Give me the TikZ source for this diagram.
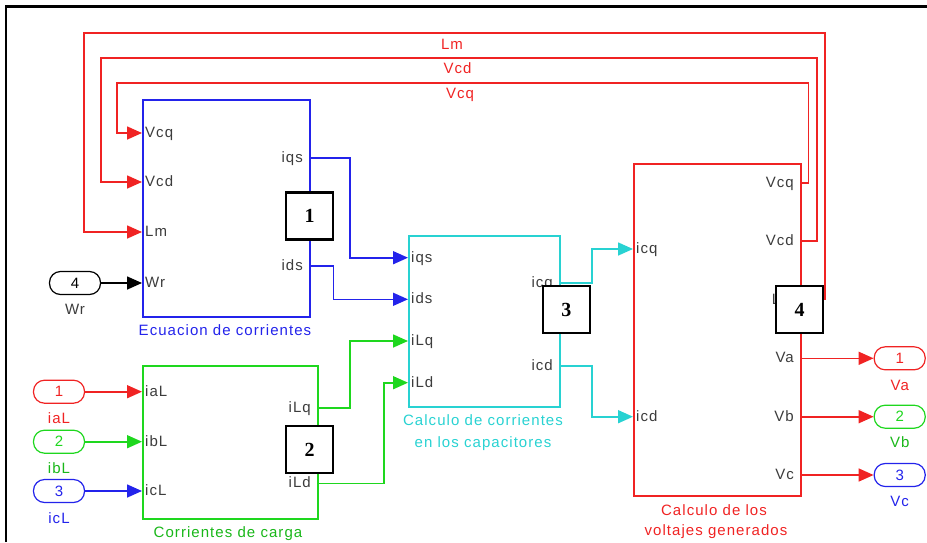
\documentclass[tikz,border=0pt]{standalone}
\usepackage{fontspec}
\setmainfont{Liberation Sans}[LetterSpace=7]
\newfontfamily\numfont{Liberation Serif}
\usetikzlibrary{arrows.meta}
\definecolor{sbred}{RGB}{240,35,35}
\definecolor{sbblue}{RGB}{35,35,235}
\definecolor{sbgreen}{RGB}{30,215,30}
\definecolor{sbcyan}{RGB}{40,210,210}
\definecolor{sbgray}{RGB}{60,60,60}
\begin{document}
\begin{tikzpicture}[x=1pt,y=-1pt,
  txt/.style={font=\fontsize{15}{15}\selectfont, inner sep=0pt},
  blk/.style={draw=#1, line width=1.6pt, anchor=north west, inner sep=0pt},
  plab/.style={txt, text=sbgray},
  plabL/.style={plab, anchor=base west, xshift=3pt, yshift=-4.5pt},
  plabR/.style={plab, anchor=base east, xshift=-6pt, yshift=-4.5pt},
  tip/.style={-{Triangle[length=15pt,width=13pt]}},
  wire/.style={draw=#1, line width=1.6pt, tip},
  fb/.style={draw=sbred, line width=1.6pt, tip},
  port/.style={draw=#1, line width=1.2pt, rounded corners=11pt, minimum width=51pt, minimum height=23pt, inner sep=0pt, text=#1, font=\fontsize{15}{15}\selectfont},
  numbox/.style={draw=black, fill=white, line width=2.2pt, minimum width=47pt, minimum height=47pt, inner sep=0pt, font=\numfont\bfseries\fontsize{20}{20}\selectfont},
]
\useasboundingbox (0,0) rectangle (927,542);

% blocks
\node[blk=sbblue, minimum width=167pt, minimum height=217pt] (B1) at (142,99) {};
\node[blk=sbgreen, minimum width=175pt, minimum height=153pt] (B2) at (142,365) {};
\node[blk=sbcyan, minimum width=151pt, minimum height=171pt] (B3) at (408,235) {};
\node[blk=sbred, minimum width=167pt, minimum height=332pt] (B4) at (633,163.3) {};

% port coordinates
\coordinate (B1vcq) at (142,133);
\coordinate (B1vcd) at (142,182);
\coordinate (B1lm) at (142,232);
\coordinate (B1wr) at (142,283);
\coordinate (B1iqs) at (309,158);
\coordinate (B1ids) at (309,266);
\coordinate (B2ial) at (142,391.7);
\coordinate (B2ibl) at (142,441.7);
\coordinate (B2icl) at (142,491);
\coordinate (B2ilq) at (317,407.7);
\coordinate (B2ild) at (317,483.3);
\coordinate (B3iqs) at (408,257.7);
\coordinate (B3ids) at (408,299.3);
\coordinate (B3ilq) at (408,341);
\coordinate (B3ild) at (408,382.7);
\coordinate (B3icq) at (559,282.7);
\coordinate (B3icd) at (559,366);
\coordinate (B4icq) at (633,249);
\coordinate (B4icd) at (633,416.7);
\coordinate (B4vcq) at (800,183);
\coordinate (B4vcd) at (800,241);
\coordinate (B4lm) at (800,299.6);
\coordinate (B4va) at (800,358.3);
\coordinate (B4vb) at (800,416.7);
\coordinate (B4vc) at (800,475);

% port labels
\node[plabL] (l1) at (B1vcq) {Vcq};
\node[plabL] (l2) at (B1vcd) {Vcd};
\node[plabL] (l3) at (B1lm) {Lm};
\node[plabL] (l4) at (B1wr) {Wr};
\node[plabR] (l5) at (B1iqs) {iqs};
\node[plabR] (l6) at (B1ids) {ids};
\node[plabL] (l7) at (B2ial) {iaL};
\node[plabL] (l8) at (B2ibl) {ibL};
\node[plabL] (l9) at (B2icl) {icL};
\node[plabR] (l10) at (B2ilq) {iLq};
\node[plabR] (l11) at (B2ild) {iLd};
\node[plabL] (l12) at (B3iqs) {iqs};
\node[plabL] (l13) at (B3ids) {ids};
\node[plabL] (l14) at (B3ilq) {iLq};
\node[plabL] (l15) at (B3ild) {iLd};
\node[plabR] (l16) at (B3icq) {icq};
\node[plabR] (l17) at (B3icd) {icd};
\node[plabL] (l18) at (B4icq) {icq};
\node[plabL] (l19) at (B4icd) {icd};
\node[plabR] (l20) at (B4vcq) {Vcq};
\node[plabR] (l21) at (B4vcd) {Vcd};
\node[plabR] (l22) at (B4lm) {Lm};
\node[plabR] (l23) at (B4va) {Va};
\node[plabR] (l24) at (B4vb) {Vb};
\node[plabR] (l25) at (B4vc) {Vc};

% block titles
\node[txt, text=sbblue, anchor=base] (t1) at (225,335.7) {Ecuacion de corrientes};
\node[txt, text=sbgreen!85!black, anchor=base] (t2) at (228,537.4) {Corrientes de carga};
\node[txt, text=sbcyan, anchor=base] (t3a) at (483,425.7) {Calculo de corrientes};
\node[txt, text=sbcyan, anchor=base] (t3b) at (483,447.4) {en los capacitores};
\node[txt, text=sbred, anchor=base] (t4a) at (714,515) {Calculo de los};
\node[txt, text=sbred, anchor=base] (t4b) at (716,535.7) {voltajes generados};

% inports
\node[port=black] (P4) at (75,283) {4};
\node[port=sbred] (P1) at (59,391.7) {1};
\node[port=sbgreen] (P2) at (59,441.7) {2};
\node[port=sbblue] (P3) at (59,491) {3};
\node[txt, text=sbgray, anchor=base] (nP4) at (75,314) {Wr};
\node[txt, text=sbred, anchor=base] (nP1) at (59,423.5) {iaL};
\node[txt, text=sbgreen!85!black, anchor=base] (nP2) at (59,473.5) {ibL};
\node[txt, text=sbblue, anchor=base] (nP3) at (59,523.5) {icL};

% outports
\node[port=sbred] (O1) at (899.7,358.3) {1};
\node[port=sbgreen] (O2) at (899.7,416.7) {2};
\node[port=sbblue] (O3) at (899.7,475) {3};
\node[txt, text=sbred, anchor=base] (nO1) at (899.7,390) {Va};
\node[txt, text=sbgreen!85!black, anchor=base] (nO2) at (899.7,447.7) {Vb};
\node[txt, text=sbblue, anchor=base] (nO3) at (899.7,506.7) {Vc};

% feedback wires
\draw[fb] (B4lm) -- ++(25,0) |- (84,32.7) |- (B1lm);
\draw[fb] (B4vcd) -- ++(17,0) |- (101,57.7) |- (B1vcd);
\draw[fb] (B4vcq) -- ++(8.3,0) |- (117,82.7) |- (B1vcq);
\node[txt, text=sbred, anchor=base] (fLm) at (452,49) {Lm};
\node[txt, text=sbred, anchor=base] (fVcd) at (457.5,73.5) {Vcd};
\node[txt, text=sbred, anchor=base] (fVcq) at (460,98.5) {Vcq};

% signal wires
\draw[wire=black] (P4.east) -- (B1wr);
\draw[wire=sbblue] (B1iqs) -- ++(41,0) |- (B3iqs);
\draw[wire=sbblue] (B1ids) -- ++(24.3,0) |- (B3ids);
\draw[wire=sbgreen] (B2ilq) -- ++(33,0) |- (B3ilq);
\draw[wire=sbgreen] (B2ild) -- ++(67,0) |- (B3ild);
\draw[wire=sbcyan] (B3icq) -- ++(32.7,0) |- (B4icq);
\draw[wire=sbcyan] (B3icd) -- ++(32.7,0) |- (B4icd);
\draw[wire=sbred] (P1.east) -- (B2ial);
\draw[wire=sbgreen] (P2.east) -- (B2ibl);
\draw[wire=sbblue] (P3.east) -- (B2icl);
\draw[wire=sbred] (B4va) -- (O1.west);
\draw[wire=sbred] (B4vb) -- (O2.west);
\draw[wire=sbred] (B4vc) -- (O3.west);

% numbered boxes
\node[numbox] (N1) at (309.5,216) {1};
\node[numbox] (N2) at (309.5,449.5) {2};
\node[numbox] (N3) at (566.3,309.7) {3};
\node[numbox] (N4) at (799.7,309.7) {4};

% frame
\draw[line width=2.5pt] (6,542) -- (6,6.5) -- (927,6.5);
\end{tikzpicture}
\end{document}
